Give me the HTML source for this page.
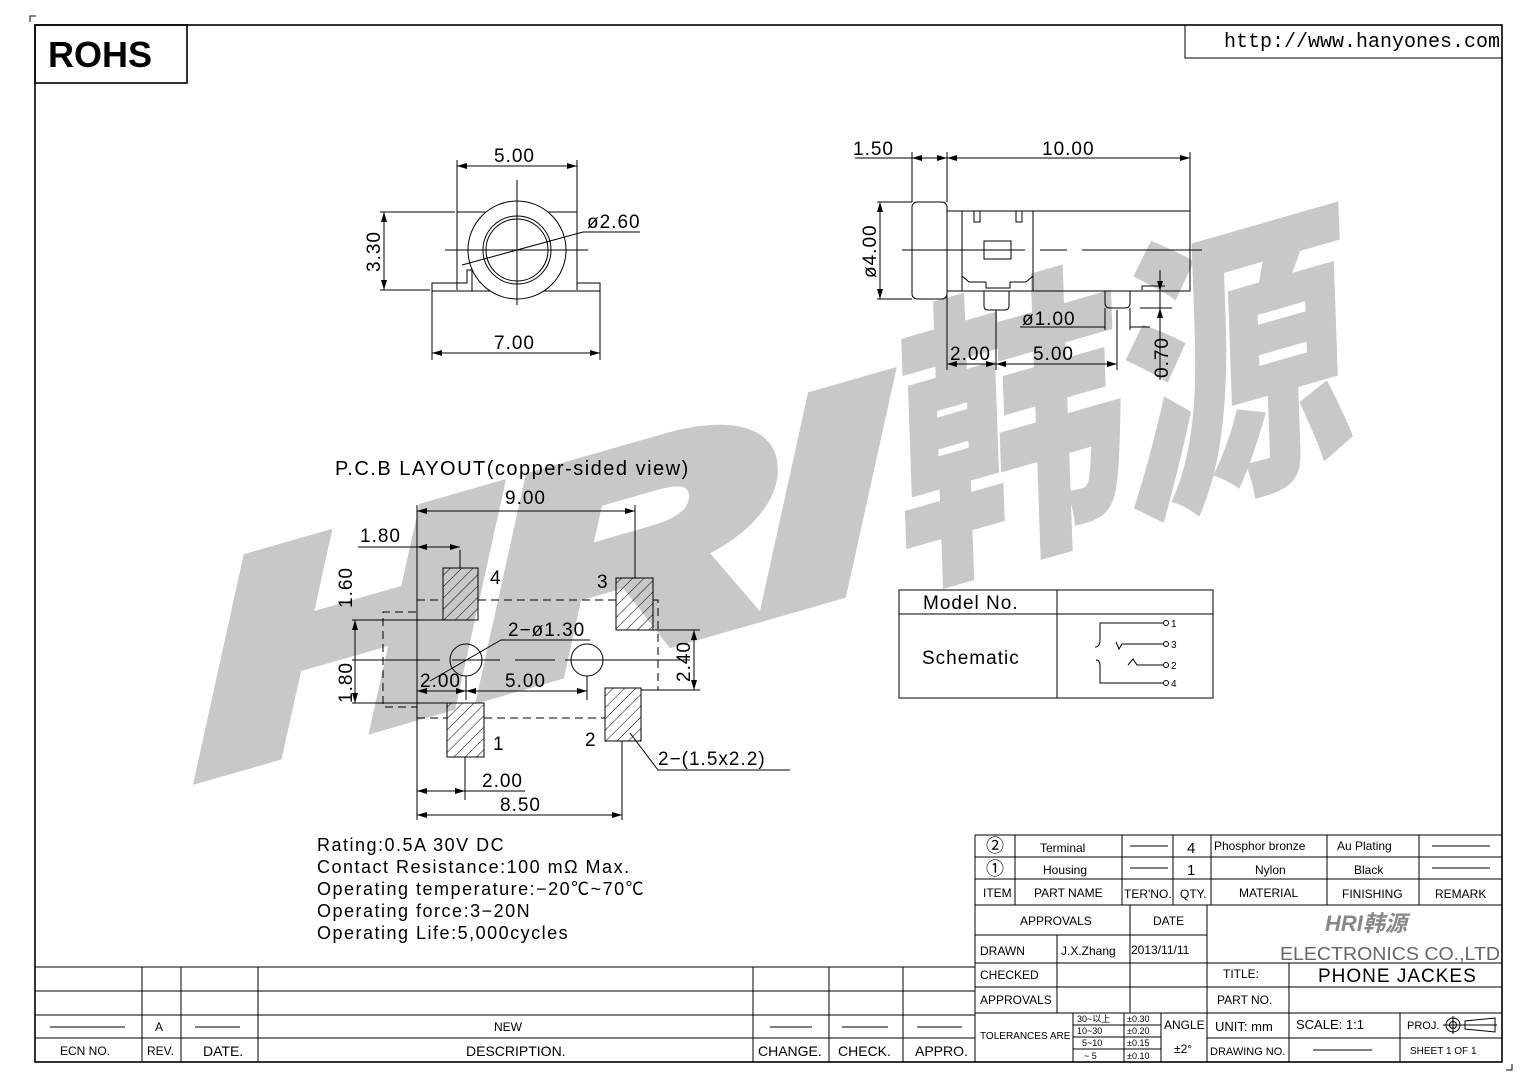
<!DOCTYPE html>
<html><head><meta charset="utf-8"><style>
html,body{margin:0;padding:0;background:#fff;}
svg{display:block;}
text{font-family:"Liberation Sans","Noto Sans CJK SC",sans-serif;fill:#000;}
.d{font-size:19px;letter-spacing:1px;}
.s{font-size:12px;}
.l{stroke:#000;stroke-width:1;fill:none;}
.t{stroke:#000;stroke-width:1.6;fill:none;}
</style></head><body>
<svg width="1538" height="1087" viewBox="0 0 1538 1087" xmlns="http://www.w3.org/2000/svg">
<defs>
<pattern id="h" patternUnits="userSpaceOnUse" width="8" height="8" patternTransform="rotate(45)">
<line x1="0" y1="0" x2="0" y2="8" stroke="#000" stroke-width="1"/></pattern>
<marker id="a" viewBox="0 0 10 6" refX="10" refY="3" markerWidth="10" markerHeight="6" orient="auto-start-reverse"><path d="M0,0L10,3L0,6z" fill="#000"/></marker>
</defs>
<!-- watermark -->
<g transform="translate(205,770) rotate(-16) skewX(-14)">
<text x="0" y="0" font-size="270" font-weight="bold" textLength="700" lengthAdjust="spacingAndGlyphs" style="fill:#c8c8c8;stroke:#c8c8c8;stroke-width:22;font-style:italic">HRI</text>
<text x="725" y="0" font-size="290" font-weight="bold" textLength="470" lengthAdjust="spacingAndGlyphs" style="fill:#c8c8c8;stroke:#c8c8c8;stroke-width:6">韩源</text>
</g>
<!-- frame -->
<path class="l" d="M30,22V16H36 M1512,1064V1070H1506"/>
<rect x="35" y="25" width="1467" height="1037" class="t"/>
<rect x="35" y="25" width="152" height="58" class="t"/>
<text x="48" y="67" font-size="36" font-weight="bold">ROHS</text>
<rect x="1185" y="25" width="317" height="33" class="l"/>
<text x="1224" y="47" font-size="20" style="font-family:'Liberation Mono',monospace">http://www.hanyones.com</text>

<!-- front view -->
<g class="l">
<path d="M457,212H577V290 M457,212V290"/>
<path d="M432,291H600V283H577 M457,283H432V291 M457,283H467V270H472V291"/>
<circle cx="517" cy="250" r="49" fill="#fff"/>
<circle cx="517" cy="250" r="34"/>
<circle cx="517" cy="250" r="31"/>
<path d="M517,180V305 M445,250H588"/>
<path d="M457,212V160 M577,212V160" />
<line x1="457" y1="166" x2="577" y2="166" marker-start="url(#a)" marker-end="url(#a)"/>
<path d="M432,291V360 M600,291V360"/>
<line x1="432" y1="353" x2="600" y2="353" marker-start="url(#a)" marker-end="url(#a)"/>
<path d="M380,212H455 M380,290H430"/>
<line x1="384" y1="212" x2="384" y2="290" marker-start="url(#a)" marker-end="url(#a)"/>
<path d="M462,265L583,232H640"/>
</g>
<text class="d" x="494" y="162">5.00</text>
<text class="d" x="494" y="349">7.00</text>
<text class="d" x="587" y="228">ø2.60</text>
<text class="d" transform="translate(380,272) rotate(-90)">3.30</text>

<!-- side view -->
<g class="l">
<rect x="912" y="202" width="35" height="97" rx="5" fill="#fff"/>
<path d="M947,211H1190V291H947 M962,211V291 M1033,211V291" fill="none"/>
<path d="M974,211V222H980V211 M1016,211V222H1022V211"/>
<rect x="984" y="241" width="27" height="18"/>
<path d="M962,276L969,282H986 M1033,276L1026,282H1010 M986,282V288H1010V282"/>
<path d="M984,291V306Q984,310 988,310H1005Q1009,310 1009,306V291"/>
<path d="M1105,291V303Q1105,308 1110,308H1125Q1130,308 1130,303V291"/>
<path d="M1142,290V286H1165"/>
<path d="M902,250H1025 M1040,250H1067 M1082,250H1202"/>
<path d="M912,202V152 M947,202V152 M1190,211V152"/>
<line x1="912" y1="158" x2="947" y2="158" marker-start="url(#a)" marker-end="url(#a)"/>
<line x1="947" y1="158" x2="1190" y2="158" marker-end="url(#a)" marker-start="url(#a)"/>
<path d="M855,158H912"/>
<path d="M877,202H912 M877,299H912"/>
<line x1="880" y1="202" x2="880" y2="299" marker-start="url(#a)" marker-end="url(#a)"/>
<path d="M947,291V370 M996,310V370 M1117,310V370"/>
<line x1="947" y1="364" x2="996" y2="364" marker-start="url(#a)" marker-end="url(#a)"/>
<line x1="996" y1="364" x2="1117" y2="364" marker-start="url(#a)" marker-end="url(#a)"/>
<path d="M1105,308V330 M1130,308V330 M1020,327H1105 M1150,327H1130"/>
<line x1="1160" y1="278" x2="1160" y2="291" marker-end="url(#a)"/>
<line x1="1160" y1="320" x2="1160" y2="308" marker-end="url(#a)"/>
<path d="M1160,270V380 M1140,308H1172 M1165,291H1172"/>
</g>
<text class="d" x="853" y="155">1.50</text>
<text class="d" x="1042" y="155">10.00</text>
<text class="d" transform="translate(876,278) rotate(-90)">ø4.00</text>
<text class="d" x="1022" y="325">ø1.00</text>
<text class="d" x="950" y="360">2.00</text>
<text class="d" x="1033" y="360">5.00</text>
<text class="d" transform="translate(1168,378) rotate(-90)">0.70</text>

<!-- PCB -->
<text x="335" y="475" font-size="20" letter-spacing="1.5">P.C.B   LAYOUT(copper-sided view)</text>
<g class="l">
<path d="M417,600H443 M478,600H616 M653,600H658V690H641 M417,718H447 M484,718H605 M417,600V612H383V707H417V718" stroke-dasharray="8,5"/>
<rect x="443" y="568" width="35" height="52" fill="url(#h)"/>
<rect x="616" y="578" width="37" height="52" fill="url(#h)"/>
<rect x="447" y="703" width="37" height="54" fill="url(#h)"/>
<rect x="605" y="688" width="36" height="53" fill="url(#h)"/>
<circle cx="466" cy="660" r="16"/>
<circle cx="587" cy="660" r="16"/>
<path d="M352,660H440 M452,660H500 M515,660H555 M565,660H690"/>
<path d="M417,505V820 M635,505V578 M460,550V568 M622,741V820 M465,757V800 M466,676V700 M587,676V700"/>
<line x1="417" y1="511" x2="635" y2="511" marker-start="url(#a)" marker-end="url(#a)"/>
<path d="M358,547H417"/>
<line x1="417" y1="547" x2="460" y2="547" marker-start="url(#a)" marker-end="url(#a)"/>
<path d="M352,620H443 M352,703H447 M653,630H700 M641,690H700"/>
<line x1="355" y1="620" x2="355" y2="703" marker-start="url(#a)" marker-end="url(#a)"/>
<line x1="694" y1="630" x2="694" y2="690" marker-start="url(#a)" marker-end="url(#a)"/>
<line x1="417" y1="691" x2="466" y2="691" marker-start="url(#a)" marker-end="url(#a)"/>
<line x1="466" y1="691" x2="587" y2="691" marker-start="url(#a)" marker-end="url(#a)"/>
<line x1="417" y1="791" x2="465" y2="791" marker-start="url(#a)" marker-end="url(#a)"/>
<path d="M465,791H525"/>
<line x1="417" y1="815" x2="622" y2="815" marker-start="url(#a)" marker-end="url(#a)"/>
<path d="M430,681L501,640H590"/>
<path d="M630,733L658,770H790"/>
</g>
<text class="d" x="505" y="504">9.00</text>
<text class="d" x="360" y="542">1.80</text>
<text class="d" x="490" y="584">4</text>
<text class="d" x="597" y="588">3</text>
<text class="d" x="508" y="636">2−ø1.30</text>
<text class="d" x="420" y="687">2.00</text>
<text class="d" x="505" y="687">5.00</text>
<text class="d" x="493" y="750">1</text>
<text class="d" x="585" y="746">2</text>
<text class="d" x="658" y="765">2−(1.5x2.2)</text>
<text class="d" x="482" y="787">2.00</text>
<text class="d" x="500" y="811">8.50</text>
<text class="d" transform="translate(352,608) rotate(-90)">1.60</text>
<text class="d" transform="translate(352,703) rotate(-90)">1.80</text>
<text class="d" transform="translate(690,682) rotate(-90)">2.40</text>

<!-- schematic table -->
<g class="l">
<rect x="899" y="590" width="314" height="108" fill="#fff"/>
<path d="M899,614H1213 M1057,590V698"/>
<path d="M1163,623H1100V640Q1100,647 1095,647 M1163,644H1122L1119,649L1116,642 M1163,665H1137L1133,659L1128,665 M1163,683H1100V666Q1100,660 1096,660"/>
<circle cx="1166" cy="623" r="2.5"/><circle cx="1166" cy="644" r="2.5"/><circle cx="1166" cy="665" r="2.5"/><circle cx="1166" cy="683" r="2.5"/>
</g>
<text x="923" y="609" font-size="19" letter-spacing="1">Model No.</text>
<text x="922" y="664" font-size="19" letter-spacing="1">Schematic</text>
<text x="1171" y="627" font-size="10">1</text><text x="1171" y="648" font-size="10">3</text><text x="1171" y="669" font-size="10">2</text><text x="1171" y="687" font-size="10">4</text>

<!-- notes -->
<g font-size="18" letter-spacing="1.5">
<text x="317" y="851">Rating:0.5A  30V  DC</text>
<text x="317" y="873">Contact  Resistance:100  mΩ  Max.</text>
<text x="317" y="895">Operating  temperature:−20℃~70℃</text>
<text x="317" y="917">Operating  force:3−20N</text>
<text x="317" y="939">Operating  Life:5,000cycles</text>
</g>

<!-- revision table -->
<g class="l">
<path d="M35,967H975 M35,991H975 M35,1015H975 M35,1038H975"/>
<path d="M142,967V1062 M181,967V1062 M258,967V1062 M753,967V1062 M829,967V1062 M903,967V1062 M975,835V1062"/>
<path d="M50,1027H125 M195,1027H240 M770,1027H812 M842,1027H888 M917,1027H962"/>
</g>
<text x="155" y="1031" class="s">A</text>
<text x="494" y="1031" class="s">NEW</text>
<text x="60" y="1055" class="s" fill="#444">ECN  NO.</text>
<text x="147" y="1055" class="s">REV.</text>
<text x="203" y="1056" font-size="14">DATE.</text>
<text x="466" y="1056" font-size="14">DESCRIPTION.</text>
<text x="758" y="1056" font-size="14">CHANGE.</text>
<text x="838" y="1056" font-size="14">CHECK.</text>
<text x="915" y="1056" font-size="14">APPRO.</text>

<!-- title block -->
<g class="l">
<path d="M975,835H1502 M975,857H1502 M975,879H1502 M975,905H1502"/>
<path d="M1015,835V905 M1122,835V905 M1173,835V905 M1211,835V905 M1327,835V905 M1419,835V905"/>
<path d="M1130,868H1168 M1130,846H1168 M1432,846H1490 M1432,868H1490"/>
<path d="M975,935H1207 M975,963H1502 M975,987H1502 M975,1013H1502 M1207,1038H1502"/>
<path d="M1057,935V1013 M1130,905V1013 M1207,905V1062 M1289,963V1062 M1400,1013V1062"/>
<path d="M1073,1013V1062 M1124,1013V1062 M1161,1013V1062 M1073,1025H1161 M1073,1037H1161 M1073,1049H1161"/>
<path d="M1313,1050H1372"/>
<circle cx="1453" cy="1025" r="7"/><circle cx="1453" cy="1025" r="3.5"/>
<path d="M1443,1025H1497 M1453,1016V1034 M1465,1021V1029L1495,1032V1018z"/>
</g>
<g font-size="12">
<text x="986" y="852" font-size="18">②</text>
<text x="986" y="875" font-size="18">①</text>
<text x="1040" y="852">Terminal</text>
<text x="1043" y="874">Housing</text>
<text x="1187" y="853" font-size="15">4</text>
<text x="1187" y="875" font-size="15">1</text>
<text x="1214" y="850">Phosphor bronze</text>
<text x="1337" y="850">Au Plating</text>
<text x="1255" y="874">Nylon</text>
<text x="1354" y="874">Black</text>
<text x="983" y="897">ITEM</text>
<text x="1034" y="897">PART NAME</text>
<text x="1124" y="898">TER'NO.</text>
<text x="1180" y="898">QTY.</text>
<text x="1239" y="897">MATERIAL</text>
<text x="1342" y="898">FINISHING</text>
<text x="1435" y="898">REMARK</text>
<text x="1020" y="925">APPROVALS</text>
<text x="1153" y="925">DATE</text>
<text x="980" y="955">DRAWN</text>
<text x="1061" y="955">J.X.Zhang</text>
<text x="1131" y="954">2013/11/11</text>
<text x="980" y="979">CHECKED</text>
<text x="980" y="1004">APPROVALS</text>
<text x="1223" y="978">TITLE:</text>
<text x="1217" y="1004">PART NO.</text>
<text x="980" y="1039" font-size="10">TOLERANCES ARE</text>
<text x="1077" y="1022" font-size="9">30~以上</text>
<text x="1077" y="1034" font-size="9">10~30</text>
<text x="1082" y="1046" font-size="9">5~10</text>
<text x="1084" y="1059" font-size="9">~ 5</text>
<text x="1127" y="1022" font-size="9">±0.30</text>
<text x="1127" y="1034" font-size="9">±0.20</text>
<text x="1127" y="1046" font-size="9">±0.15</text>
<text x="1127" y="1059" font-size="9">±0.10</text>
<text x="1164" y="1029">ANGLE</text>
<text x="1174" y="1053">±2°</text>
<text x="1215" y="1031" font-size="13">UNIT: mm</text>
<text x="1296" y="1029" font-size="13">SCALE:   1:1</text>
<text x="1407" y="1029" font-size="11">PROJ.</text>
<text x="1210" y="1055" font-size="11">DRAWING NO.</text>
<text x="1410" y="1054" font-size="10">SHEET    1  OF  1</text>
</g>
<text x="1325" y="931" font-size="22" font-weight="bold" font-style="italic" style="fill:#888">HRI韩源</text>
<text x="1280" y="960" font-size="18" textLength="220" lengthAdjust="spacingAndGlyphs" style="fill:#666">ELECTRONICS  CO.,LTD</text>
<text x="1318" y="982" font-size="19" letter-spacing="1">PHONE  JACKES</text>
</svg>
</body></html>
